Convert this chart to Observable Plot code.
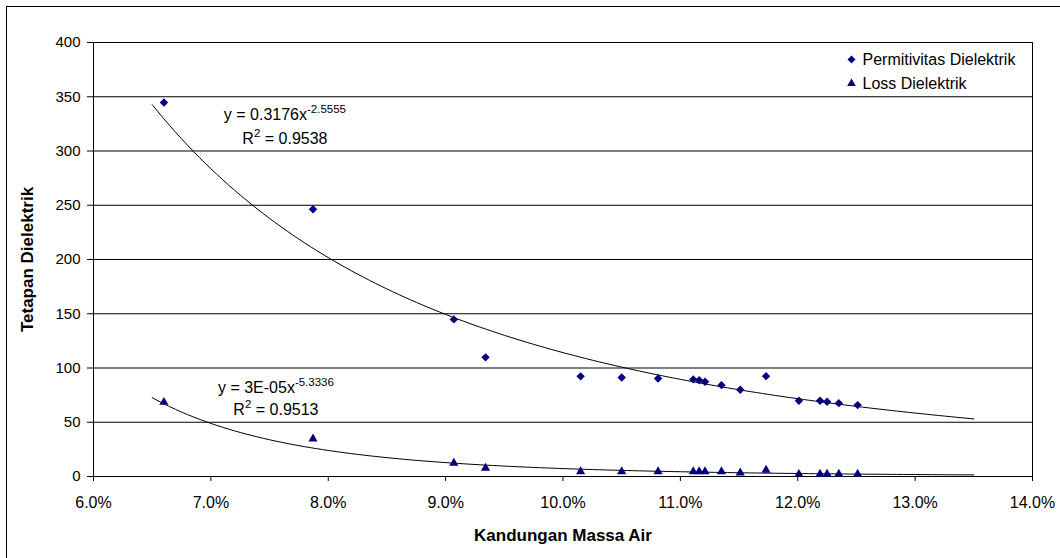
<!DOCTYPE html>
<html>
<head>
<meta charset="utf-8">
<script src="https://cdn.jsdelivr.net/npm/d3@7"></script>
<script src="https://cdn.jsdelivr.net/npm/@observablehq/plot@0.6"></script>
<style>
html, body { margin: 0; padding: 0; background: #fff; overflow: hidden; }
#wrap { position: relative; width: 1060px; height: 558px; }
#border { position: absolute; left: 6px; top: 6px; width: 1100px; height: 600px; border: 1px solid #000; pointer-events: none; }
svg text { white-space: pre; }
</style>
</head>
<body>
<div id="wrap"><div id="chart"></div><div id="border"></div></div>
<script>
// ---- data ----
const moisture = [0.0660, 0.0787, 0.0907, 0.0934, 0.1015, 0.1050, 0.1081, 0.1111, 0.1116, 0.1121, 0.1135, 0.1151, 0.1173, 0.1201, 0.1219, 0.1225, 0.1235, 0.1251];
const permitivitas = [344.7, 246.3, 144.8, 109.8, 92.3, 91.3, 90.4, 89.5, 88.8, 87.4, 84.2, 80.0, 92.5, 69.8, 69.8, 68.9, 67.6, 65.8];
const lossDielektrik = [68.5, 34.8, 12.3, 7.7, 4.5, 4.5, 4.5, 4.5, 4.5, 4.5, 4.5, 3.4, 6.0, 2.1, 2.3, 2.3, 2.3, 2.3];
const seriesNames = ["Permitivitas Dielektrik", "Loss Dielektrik"];
const equationLabels = ["y = 0.3176x^-2.5555", "y = 3E-05x^-5.3336"];
const r2Labels = ["R^2 = 0.9538", "R^2 = 0.9513"];
const trendExtent = [0.065, 0.135];
const xTicks = [0.06, 0.07, 0.08, 0.09, 0.10, 0.11, 0.12, 0.13, 0.14];
const yTicks = [0, 50, 100, 150, 200, 250, 300, 350, 400];
const xTitle = "Kandungan Massa Air";
const yTitle = "Tetapan Dielektrik";

// ---- build table & power-law trend (least squares in log-log space, as Excel does) ----
const rows = moisture.map((m, i) => ({m, perm: permitivitas[i], loss: lossDielektrik[i]}));
function powerFit(xs, ys) {
  const X = xs.map(Math.log), Y = ys.map(Math.log);
  const mx = d3.mean(X), my = d3.mean(Y);
  let sxy = 0, sxx = 0;
  X.forEach((x, i) => { sxy += (x - mx) * (Y[i] - my); sxx += (x - mx) ** 2; });
  const b = sxy / sxx, a = Math.exp(my - b * mx);
  return x => a * Math.pow(x, b);
}
const fitPerm = powerFit(moisture, permitivitas);
const fitLoss = powerFit(moisture, lossDielektrik);
const trendX = d3.range(0, 141).map(i => trendExtent[0] + i * (trendExtent[1] - trendExtent[0]) / 140);

const navy = "#000080";
const fmt = d3.format(".1%");

const plot = Plot.plot({
  width: 1060,
  height: 558,
  marginLeft: 93,
  marginRight: 28,
  marginTop: 42,
  marginBottom: 82,
  style: {fontFamily: "'Liberation Sans', Arial, sans-serif", background: "transparent", color: "#000"},
  x: {domain: [0.06, 0.14]},
  y: {domain: [0, 400]},
  marks: [
    Plot.gridY(yTicks, {stroke: "#000", strokeOpacity: 1}),
    Plot.frame({stroke: "#000"}),
    Plot.axisX(xTicks, {tickSize: 5, tickPadding: 15, fontSize: 16, tickFormat: fmt, label: null}),
    Plot.axisY(yTicks, {tickSize: 6, tickPadding: 7, fontSize: 15, label: null}),
    Plot.line(trendX, {x: d => d, y: d => fitPerm(d), stroke: "#000", strokeWidth: 1}),
    Plot.line(trendX, {x: d => d, y: d => fitLoss(d), stroke: "#000", strokeWidth: 1}),
    Plot.dot(rows, {x: "m", y: "perm", symbol: "diamond2", r: 3.8, fill: navy, stroke: "none"}),
    Plot.dot(rows, {x: "m", y: "loss", symbol: "triangle", r: 3.4, fill: navy, stroke: "none"}),
    // trend-line equations, anchored to the first point of each series
    Plot.text([rows[0]], {x: "m", y: "perm", text: () => equationLabels[0], dx: 121, dy: 17.7, textAnchor: "middle", lineAnchor: "bottom", fontSize: 16}),
    Plot.text([rows[0]], {x: "m", y: "perm", text: () => r2Labels[0], dx: 121, dy: 41.7, textAnchor: "middle", lineAnchor: "bottom", fontSize: 16}),
    Plot.text([rows[0]], {x: "m", y: "loss", text: () => equationLabels[1], dx: 112, dy: -9.4, textAnchor: "middle", lineAnchor: "bottom", fontSize: 16}),
    Plot.text([rows[0]], {x: "m", y: "loss", text: () => r2Labels[1], dx: 112, dy: 13, textAnchor: "middle", lineAnchor: "bottom", fontSize: 16}),
    // legend
    Plot.dot([seriesNames[0]], {frameAnchor: "top-right", dx: -181, dy: 17, symbol: "diamond2", r: 3.6, fill: navy}),
    Plot.text([seriesNames[0]], {frameAnchor: "top-right", dx: -170, dy: 17, textAnchor: "start", lineAnchor: "middle", fontSize: 16}),
    Plot.dot([seriesNames[1]], {frameAnchor: "top-right", dx: -181, dy: 41, symbol: "triangle", r: 3.2, fill: navy}),
    Plot.text([seriesNames[1]], {frameAnchor: "top-right", dx: -170, dy: 41, textAnchor: "start", lineAnchor: "middle", fontSize: 16}),
    // axis titles
    Plot.text([yTitle], {frameAnchor: "left", rotate: -90, dx: -66, textAnchor: "middle", lineAnchor: "middle", fontWeight: "bold", fontSize: 17}),
    Plot.text([xTitle], {frameAnchor: "bottom", dy: 64, textAnchor: "middle", lineAnchor: "bottom", fontWeight: "bold", fontSize: 17})
  ]
});

// render "^" parts as superscripts, keeping all text as real text
d3.select(plot).selectAll("text").filter(function() { return this.textContent.includes("^"); }).each(function() {
  const parts = this.textContent.split(/\^(\S+)/);
  const sel = d3.select(this);
  this.textContent = "";
  let pending = 0;
  parts.forEach((p, i) => {
    if (!p) return;
    const t = sel.append("tspan").text(p);
    if (i % 2 === 1) { t.attr("font-size", 11.5).attr("dy", -7); pending = 7; }
    else if (pending) { t.attr("dy", pending); pending = 0; }
  });
});

document.getElementById("chart").appendChild(plot);
</script>
</body>
</html>
